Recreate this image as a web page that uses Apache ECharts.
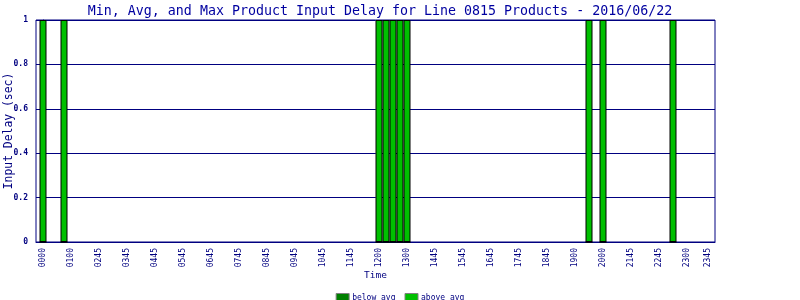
<!DOCTYPE html>
<html>
<head>
<meta charset="utf-8">
<script src="https://cdn.jsdelivr.net/npm/echarts@6/dist/echarts.min.js"></script>
<style>html,body{margin:0;padding:0;background:#fff;}#c{width:800px;height:300px;}</style>
</head>
<body>
<div id="c"></div>
<script>
// 96 fifteen-minute slots along the x axis (slot index 0..95)
var slotCount = 96;
// visible tick labels and the slot index each one sits on
var tickLabels = ['0000','0100','0245','0345','0445','0545','0645','0745','0845','0945','1045','1145',
                  '1200','1300','1445','1545','1645','1745','1845','1900','2000','2145','2245','2300','2345'];
var tickSlots  = [0,4,8,12,16,20,24,28,32,36,40,44,48,52,56,60,64,68,72,76,80,84,88,92,95];
// slots holding a bar, and their values (sec)
var barSlots  = [0, 3, 48, 49, 50, 51, 52, 78, 80, 90];
var belowAvg  = [0, 0, 0, 0, 0, 0, 0, 0, 0, 0];
var aboveAvg  = [1, 1, 1, 1, 1, 1, 1, 1, 1, 1];

var labelMap = {};
tickSlots.forEach(function (s, i) { labelMap[s] = tickLabels[i]; });
var belowData = barSlots.map(function (s, i) { return [s, belowAvg[i]]; });
var aboveData = barSlots.map(function (s, i) { return [s, aboveAvg[i]]; });

var navy = '#000080';
var mono = 'DejaVu Sans Mono';
var chart = echarts.init(document.getElementById('c'), null, {renderer: 'canvas'});
chart.setOption({
  animation: false,
  backgroundColor: '#ffffff',
  title: {
    text: 'Min, Avg, and Max Product Input Delay for Line 0815 Products - 2016/06/22',
    left: 375, top: 0, textAlign: 'center',
    textStyle: {fontFamily: mono, fontSize: 13.3, fontWeight: 'normal', color: '#0000a0'}
  },
  legend: {
    data: ['below avg', 'above avg'],
    left: 'center', top: 288,
    icon: 'rect', itemWidth: 13, itemHeight: 9, itemGap: 9,
    itemStyle: {borderColor: '#808080', borderWidth: 1},
    textStyle: {fontFamily: mono, fontSize: 8, color: navy, padding: [0, 0, 0, -2]}
  },
  grid: {left: 36, right: 85, top: 20, bottom: 58, outerBoundsMode: 'none', containLabel: false,
         show: true, borderColor: navy, borderWidth: 1, backgroundColor: '#fff'},
  xAxis: {
    type: 'value', min: -1, max: slotCount, interval: 1,
    name: 'Time', nameLocation: 'middle', nameGap: 29, nameMoveOverlap: false,
    nameTextStyle: {fontFamily: mono, fontSize: 9.5, color: navy},
    axisLine: {show: true, lineStyle: {color: navy}},
    axisTick: {show: false},
    splitLine: {show: false},
    axisLabel: {
      rotate: 90, margin: 6, color: navy, fontFamily: mono, fontSize: 8,
      showMinLabel: true, showMaxLabel: true,
      formatter: function (v) { return labelMap[v] !== undefined ? labelMap[v] : ''; }
    }
  },
  yAxis: {
    type: 'value', min: 0, max: 1, interval: 0.2,
    name: 'Input Delay (sec)', nameLocation: 'middle', nameGap: 21, nameMoveOverlap: false,
    nameTextStyle: {fontFamily: mono, fontSize: 11.4, color: navy},
    axisLine: {show: true, lineStyle: {color: navy}},
    axisTick: {show: true, length: 3, lineStyle: {color: navy}},
    splitLine: {show: true, lineStyle: {color: navy, width: 1}},
    axisLabel: {margin: 8, color: navy, fontFamily: mono, fontSize: 8, fontWeight: 'bold'}
  },
  series: [
    {name: 'below avg', type: 'bar', stack: 'd', barWidth: 7, data: belowData,
     itemStyle: {color: '#008000', borderColor: '#000', borderWidth: 1}},
    {name: 'above avg', type: 'bar', stack: 'd', barWidth: 7, data: aboveData,
     itemStyle: {color: '#00c000', borderColor: '#000', borderWidth: 1}}
  ]
});
</script>
</body>
</html>
